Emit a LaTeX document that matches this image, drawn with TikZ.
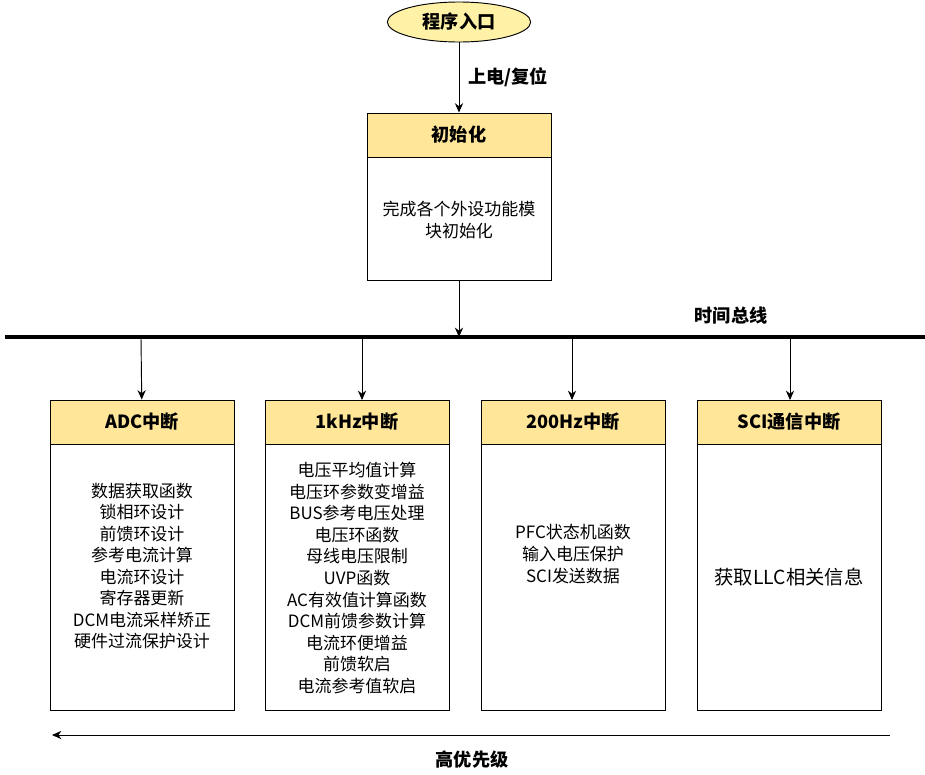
\documentclass[tikz,border=0pt]{standalone}
\usepackage{fontspec}
\setmainfont{Noto Sans CJK SC}
\usetikzlibrary{arrows.meta,positioning,shapes.geometric}
\definecolor{headyellow}{HTML}{FFE699}
\definecolor{entryyellow}{HTML}{FFF2A6}

\begin{document}
\begin{tikzpicture}[x=0.03cm,y=-0.03cm,>={Stealth[length=8pt,width=7pt]},
  head/.style={draw,thick,fill=headyellow,minimum width=5.52cm,minimum height=1.32cm,font=\fontsize{15.5}{17}\selectfont\bfseries},
  body/.style={draw,thick,fill=white,minimum width=5.52cm,minimum height=7.98cm},
  list/.style={align=center,font=\fontsize{14.5}{18.4}\selectfont},
  flow/.style={->,thick}]

\useasboundingbox (0,0) rectangle (925,774);

% entry and init
\node[ellipse,draw,thick,fill=entryyellow,minimum width=4.3cm,minimum height=1.2cm,font=\fontsize{15.5}{17}\selectfont\bfseries] (entry) at (459,22) {程序入口};
\node[head] (init_h) at (459,135) {初始化};
\node[body,minimum height=3.69cm] (init_b) at (459,218.5) {};
\node[list] (init_t) at (459,220) {完成各个外设功能模\\块初始化};
\draw[flow] (entry) -- node[right=4pt,font=\fontsize{15.5}{17}\selectfont\bfseries] {上电/复位} (init_h);

% time bus
\coordinate (bus_l) at (5,337);
\coordinate (bus_r) at (925,337);
\draw[line width=3pt] (bus_l) -- (bus_r);
\node[font=\fontsize{15.5}{17}\selectfont\bfseries] (bus_t) at (731,316) {时间总线};
\coordinate (bus_init) at (459,337);
\draw[flow] (init_b) -- (bus_init);

% interrupt boxes
\foreach \n/\x/\title in {adc/142/ADC中断,khz/357/1kHz中断,hz/573/200Hz中断,sci/789/SCI通信中断}{
  \node[head] (\n_h) at (\x,422) {\title};
  \node[body] (\n_b) at (\x,577) {};
}
\node[list] (adc_t) at (142,566) {数据获取函数\\锁相环设计\\前馈环设计\\参考电流计算\\电流环设计\\寄存器更新\\DCM电流采样矫正\\硬件过流保护设计};
\node[list] (khz_t) at (357,578) {电压平均值计算\\电压环参数变增益\\BUS参考电压处理\\电压环函数\\母线电压限制\\UVP函数\\AC有效值计算函数\\DCM前馈参数计算\\电流环便增益\\前馈软启\\电流参考值软启};
\node[list] (hz_t) at (573,554) {PFC状态机函数\\输入电压保护\\SCI发送数据};
\node[list,font=\fontsize{16.5}{18}\selectfont] (sci_t) at (789,577) {获取LLC相关信息};

\draw[flow] (141,338) -- (adc_h);
\draw[flow] (362,338) -- (362,400);
\draw[flow] (572,338) -- (572,400);
\draw[flow] (790,338) -- (790,400);

% priority
\coordinate (pri_r) at (890,735);
\coordinate (pri_l) at (52,735);
\draw[flow] (pri_r) -- (pri_l);
\node[font=\fontsize{15.5}{17}\selectfont\bfseries] (pri_t) at (472,760) {高优先级};
\end{tikzpicture}
\end{document}
